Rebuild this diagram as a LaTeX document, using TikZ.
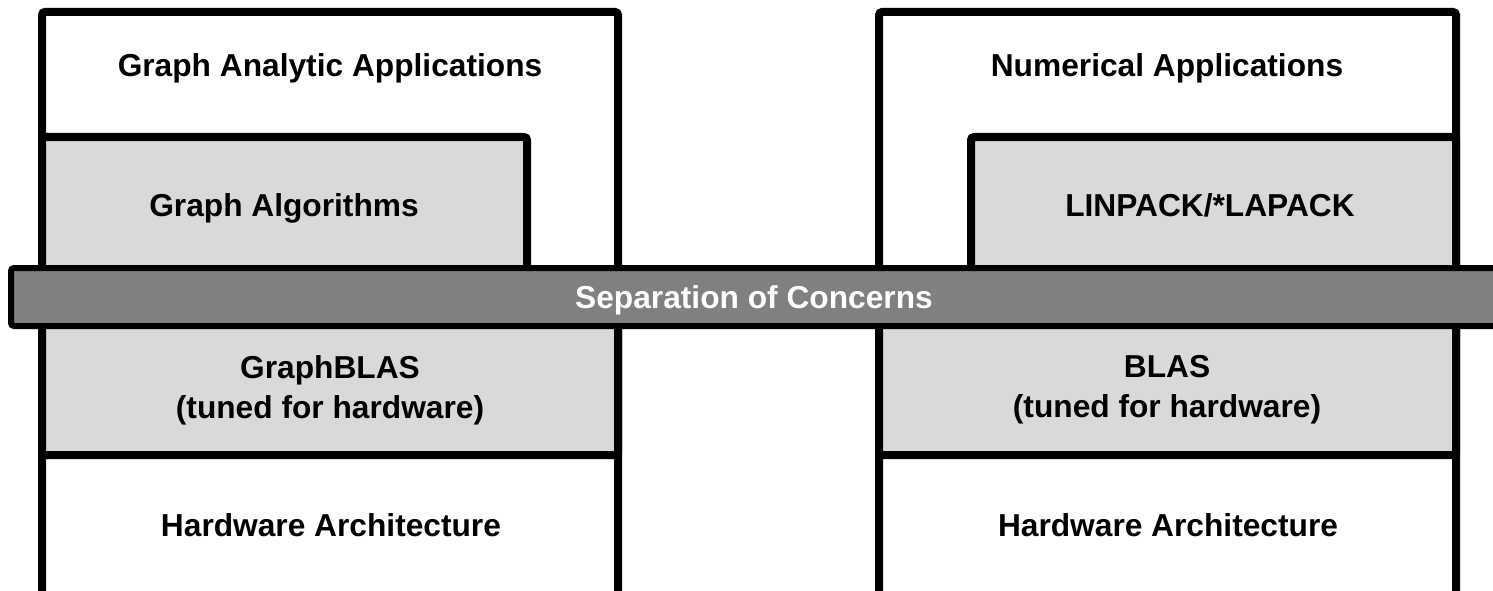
\documentclass[tikz,border=0pt]{standalone}
\usepackage{fontspec}
\setmainfont{Liberation Sans}
\definecolor{layergray}{HTML}{D9D9D9}
\definecolor{bandgray}{HTML}{808080}
\begin{document}
\begin{tikzpicture}[x=1pt,y=-1pt,
  frame/.style={draw=black,line width=8pt,rounded corners=3pt,fill=white},
  layer/.style={frame,fill=layergray},
  band/.style={draw=black,line width=6pt,rounded corners=3pt,fill=bandgray},
  label/.style={font=\bfseries\fontsize{31.7}{40}\selectfont,align=center,inner sep=0pt},
  line/.style={label,anchor=base}]
  \clip (0,0) rectangle (1493,591);

  % left stack: graph side
  \draw[frame] (42,12) rectangle (618,640);
  \draw[layer] (42,137) rectangle (527,300);
  \draw[layer] (42,300) rectangle (618,455);

  % right stack: numerical side
  \draw[frame] (879,12) rectangle (1456,640);
  \draw[layer] (971,137) rectangle (1456,300);
  \draw[layer] (879,300) rectangle (1456,455);

  % the dividing band across both stacks
  \draw[band] (11,268) rectangle (1520,326);

  % labels
  \node[line] (gapps)  at (330,77)  {Graph Analytic Applications};
  \node[line] (galgo)  at (284,216) {Graph Algorithms};
  \node[label] (gblas) at (330,390) {GraphBLAS\\(tuned for hardware)};
  \node[line] (ghw)    at (331,536) {Hardware Architecture};

  \node[line] (napps)  at (1167,77)  {Numerical Applications};
  \node[line] (lapack) at (1210,216) {LINPACK/*LAPACK};
  \node[label] (blas)  at (1167,390) {BLAS\\(tuned for hardware)};
  \node[line] (nhw)    at (1168,536) {Hardware Architecture};

  \node[line,text=white] (soc) at (754,308) {Separation of Concerns};
\end{tikzpicture}
\end{document}
